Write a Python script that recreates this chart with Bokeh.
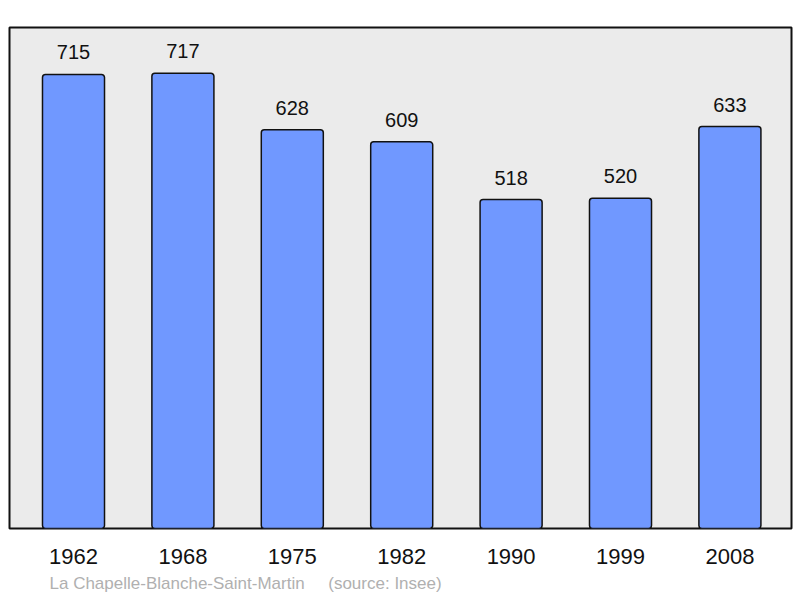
from bokeh.plotting import figure
from bokeh.models import Range1d, FixedTicker, Title, ColumnDataSource
from bokeh.core.properties import value
from bokeh.embed import file_html
from bokeh.resources import INLINE

years = ["1962", "1968", "1975", "1982", "1990", "1999", "2008"]
population = [715, 717, 628, 609, 518, 520, 633]
footer_name = "La Chapelle-Blanche-Saint-Martin"
footer_source = "(source: Insee)"

xs = list(range(len(years)))
src = ColumnDataSource(dict(x=xs, top=population, lbl=[str(v) for v in population]))

p = figure(width=800, height=598, output_backend="svg", toolbar_location=None,
           x_range=Range1d(-0.585, 6.563), y_range=Range1d(0, 789),
           min_border_left=9, min_border_right=9, min_border_top=27, min_border_bottom=70)
p.background_fill_color = "#ebebeb"
p.border_fill_color = "white"
p.outline_line_color = "#111111"
p.outline_line_width = 2
p.grid.visible = False
p.yaxis.visible = False

p.vbar(x="x", top="top", bottom=0, width=0.567, source=src,
       fill_color="#7098ff", line_color="#111111", line_width=1.5, border_radius=3)
p.text(x="x", y="top", text="lbl", source=src, y_offset=-22,
       text_align="center", text_baseline="alphabetic",
       text_font=value("Liberation Sans"), text_font_size="20px", text_color="#111111")

ax = p.xaxis[0]
ax.ticker = FixedTicker(ticks=xs)
ax.major_label_overrides = {i: y for i, y in enumerate(years)}
ax.axis_line_color = None
ax.major_tick_line_color = None
ax.minor_tick_line_color = None
ax.major_tick_out = 0
ax.major_tick_in = 0
ax.major_label_standoff = 20
ax.major_label_text_font = "Liberation Sans"
ax.major_label_text_font_size = "22px"
ax.major_label_text_color = "#111111"

footer = Title(text=footer_name + "\u00a0\u00a0\u00a0\u00a0\u00a0" + footer_source,
               align="left", offset=40, standoff=10,
               text_font="Liberation Sans", text_font_size="17px",
               text_font_style="normal", text_color="#b0b0b0")
p.add_layout(footer, "below")

open("out.html", "w").write(file_html(p, INLINE))
